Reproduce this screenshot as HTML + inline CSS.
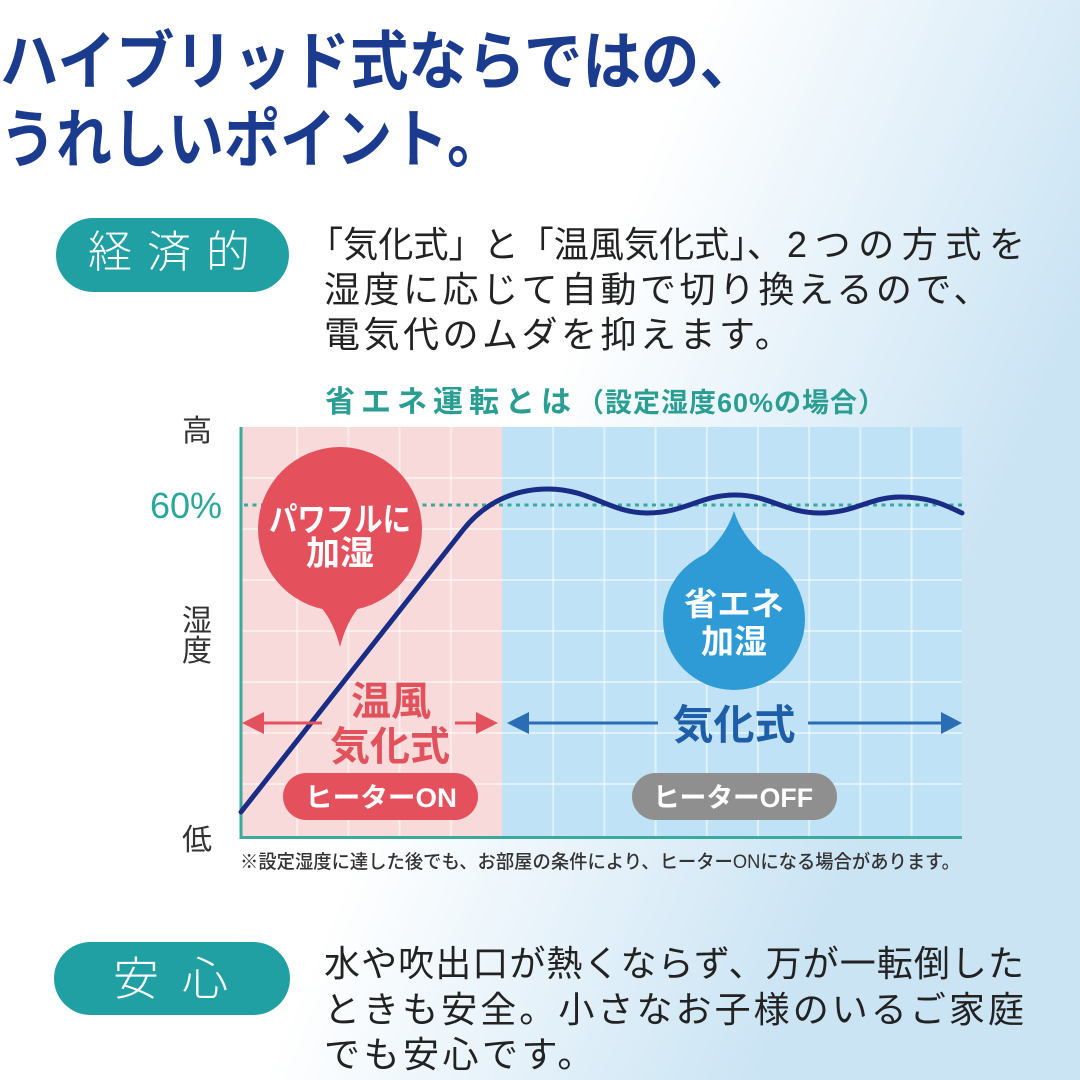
<!DOCTYPE html>
<html><head><meta charset="utf-8"><style>
html,body{margin:0;padding:0;background:#fff;}
svg{display:block;}
text{font-family:"Liberation Sans","Noto Sans CJK JP",sans-serif;}
</style></head><body>
<svg width="1080" height="1080" viewBox="0 0 1080 1080" xmlns="http://www.w3.org/2000/svg">
<defs>
<linearGradient id="bg" gradientUnits="userSpaceOnUse" x1="500" y1="0" x2="1100" y2="250">
<stop offset="0.3" stop-color="#ffffff"/>
<stop offset="1" stop-color="#cbe4f4"/>
</linearGradient>
</defs>
<rect width="1080" height="1080" fill="url(#bg)"/>

<!-- Title -->
<text x="0" y="84" font-size="64" font-weight="700" fill="#1b3b8e" textLength="758" lengthAdjust="spacingAndGlyphs">ハイブリッド式ならではの、</text>
<text x="0" y="162" font-size="64" font-weight="700" fill="#1b3b8e" textLength="503" lengthAdjust="spacingAndGlyphs">うれしいポイント。</text>

<!-- Pill 1 -->
<rect x="56" y="218" width="233" height="74" rx="37" fill="#21a0a4"/>
<text y="267" font-size="44" font-weight="300" fill="#ffffff"><tspan x="88">経</tspan><tspan x="147">済</tspan><tspan x="206">的</tspan></text>

<!-- Paragraph 1 -->
<text x="308" y="257" font-size="36" fill="#222" textLength="474" lengthAdjust="spacingAndGlyphs">「気化式」と「温風気化式」、</text>
<text x="787" y="257" font-size="36" fill="#222" textLength="238" lengthAdjust="spacing">2つの方式を</text>
<text x="324" y="302" font-size="36" fill="#222" letter-spacing="3.5">湿度に応じて自動で切り換えるので、</text>
<text x="324" y="347" font-size="36" fill="#222" letter-spacing="3.5">電気代のムダを抑えます。</text>

<!-- Chart title -->
<text x="325" y="412" font-size="30" font-weight="700" fill="#2a9e92" letter-spacing="6">省エネ運転とは</text>
<text x="577" y="412" font-size="27" font-weight="700" fill="#2a9e92" textLength="308" lengthAdjust="spacing">（設定湿度60%の場合）</text>

<!-- Y labels -->
<text x="182" y="441" font-size="30" fill="#333">高</text>
<text x="150" y="518" font-size="36" fill="#2aa79b">60%</text>
<text x="182" y="631" font-size="30" fill="#333">湿</text>
<text x="182" y="661" font-size="30" fill="#333">度</text>
<text x="182" y="850" font-size="30" fill="#333">低</text>

<!-- Plot areas -->
<rect x="242" y="427" width="260" height="410" fill="#f9dada"/>
<rect x="502" y="427" width="460" height="410" fill="#bfe2f6"/>
<g stroke="#ffffff" stroke-opacity="0.5" stroke-width="2">
<line x1="297.2" y1="427" x2="297.2" y2="837"/>
<line x1="348.4" y1="427" x2="348.4" y2="837"/>
<line x1="399.6" y1="427" x2="399.6" y2="837"/>
<line x1="450.8" y1="427" x2="450.8" y2="837"/>
<line x1="553.2" y1="427" x2="553.2" y2="837"/>
<line x1="604.4" y1="427" x2="604.4" y2="837"/>
<line x1="655.6" y1="427" x2="655.6" y2="837"/>
<line x1="706.8" y1="427" x2="706.8" y2="837"/>
<line x1="758" y1="427" x2="758" y2="837"/>
<line x1="809.2" y1="427" x2="809.2" y2="837"/>
<line x1="860.4" y1="427" x2="860.4" y2="837"/>
<line x1="911.6" y1="427" x2="911.6" y2="837"/>
<line x1="242" y1="478" x2="962" y2="478"/>
<line x1="242" y1="529" x2="962" y2="529"/>
<line x1="242" y1="580" x2="962" y2="580"/>
<line x1="242" y1="631" x2="962" y2="631"/>
<line x1="242" y1="682" x2="962" y2="682"/>
<line x1="242" y1="733" x2="962" y2="733"/>
<line x1="242" y1="784" x2="962" y2="784"/>
</g>

<!-- Axes -->
<line x1="241" y1="427" x2="241" y2="839" stroke="#3ba99c" stroke-width="3"/>
<line x1="240" y1="837.5" x2="962" y2="837.5" stroke="#3ba99c" stroke-width="3"/>

<!-- Dotted 60% line -->
<line x1="244" y1="505" x2="962" y2="505" stroke="#39a89a" stroke-width="3" stroke-dasharray="4 4.5"/>

<!-- Red bubble -->
<circle cx="340" cy="529" r="82" fill="#e5505d"/>
<path d="M312,598 Q332,615 340,647 Q348,615 368,598 Z" fill="#e5505d"/>
<text x="269" y="531" font-size="33" font-weight="700" fill="#fff" textLength="142" lengthAdjust="spacingAndGlyphs">パワフルに</text>
<text x="340" y="565" font-size="34" font-weight="700" fill="#fff" text-anchor="middle">加湿</text>

<!-- Blue drop -->
<circle cx="734" cy="619" r="71" fill="#2e9ad6"/>
<path d="M734,511 C728,530 715,548 695,562 L773,562 C753,548 740,530 734,511 Z" fill="#2e9ad6"/>
<text x="684" y="615" font-size="32" font-weight="700" fill="#fff" textLength="100" lengthAdjust="spacingAndGlyphs">省エネ</text>
<text x="734" y="653" font-size="33" font-weight="700" fill="#fff" text-anchor="middle">加湿</text>

<!-- Curve -->
<path d="M241,812 L463,530 C485,502 515,489 548,489 C590,489 610,513 647,513 C685,513 700,495 735,495 C770,495 785,513 820,513 C855,513 870,497 900,497 C930,497 945,505 962,513" fill="none" stroke="#1a2d86" stroke-width="5" stroke-linecap="round" stroke-linejoin="round"/>

<!-- Red arrows -->
<g fill="#e2525c" stroke="none">
<polygon points="242,723 264,712 264,734"/>
<polygon points="498,723 476,712 476,734"/>
</g>
<line x1="262" y1="723" x2="322" y2="723" stroke="#e2525c" stroke-width="3"/>
<line x1="455" y1="723" x2="478" y2="723" stroke="#e2525c" stroke-width="3"/>
<text x="391" y="715" font-size="40" font-weight="700" fill="#e2525c" text-anchor="middle">温風</text>
<text x="390" y="760" font-size="40" font-weight="700" fill="#e2525c" text-anchor="middle">気化式</text>

<!-- Blue arrows -->
<g fill="#2a6db5" stroke="none">
<polygon points="507,723 529,712 529,734"/>
<polygon points="962,723 941,712 941,734"/>
</g>
<line x1="527" y1="723" x2="658" y2="723" stroke="#2a6db5" stroke-width="3"/>
<line x1="808" y1="723" x2="943" y2="723" stroke="#2a6db5" stroke-width="3"/>
<text x="734" y="739" font-size="41" font-weight="700" fill="#1d5ea6" text-anchor="middle">気化式</text>

<!-- Badges -->
<rect x="283" y="773" width="195" height="47" rx="23.5" fill="#e4505c"/>
<text x="305" y="807" font-size="27" font-weight="700" fill="#fff" textLength="152" lengthAdjust="spacingAndGlyphs">ヒーターON</text>
<rect x="632" y="773" width="205" height="47" rx="23.5" fill="#8f8f8f"/>
<text x="653" y="807" font-size="27" font-weight="700" fill="#fff" textLength="160" lengthAdjust="spacingAndGlyphs">ヒーターOFF</text>

<!-- Footnote -->
<text x="240" y="868" font-size="19" font-weight="500" fill="#333" textLength="720" lengthAdjust="spacingAndGlyphs">※設定湿度に達した後でも、お部屋の条件により、ヒーターONになる場合があります。</text>

<!-- Pill 2 -->
<rect x="54" y="942" width="236" height="73" rx="36.5" fill="#21a0a4"/>
<text y="995" font-size="46" font-weight="300" fill="#ffffff"><tspan x="113">安</tspan><tspan x="182">心</tspan></text>

<!-- Paragraph 2 -->
<text x="324" y="976" font-size="36" fill="#222" textLength="700" lengthAdjust="spacing">水や吹出口が熱くならず、万が一転倒した</text>
<text x="324" y="1022" font-size="36" fill="#222" textLength="700" lengthAdjust="spacing">ときも安全。小さなお子様のいるご家庭</text>
<text x="324" y="1067" font-size="36" fill="#222" letter-spacing="3.5">でも安心です。</text>
</svg>
</body></html>
